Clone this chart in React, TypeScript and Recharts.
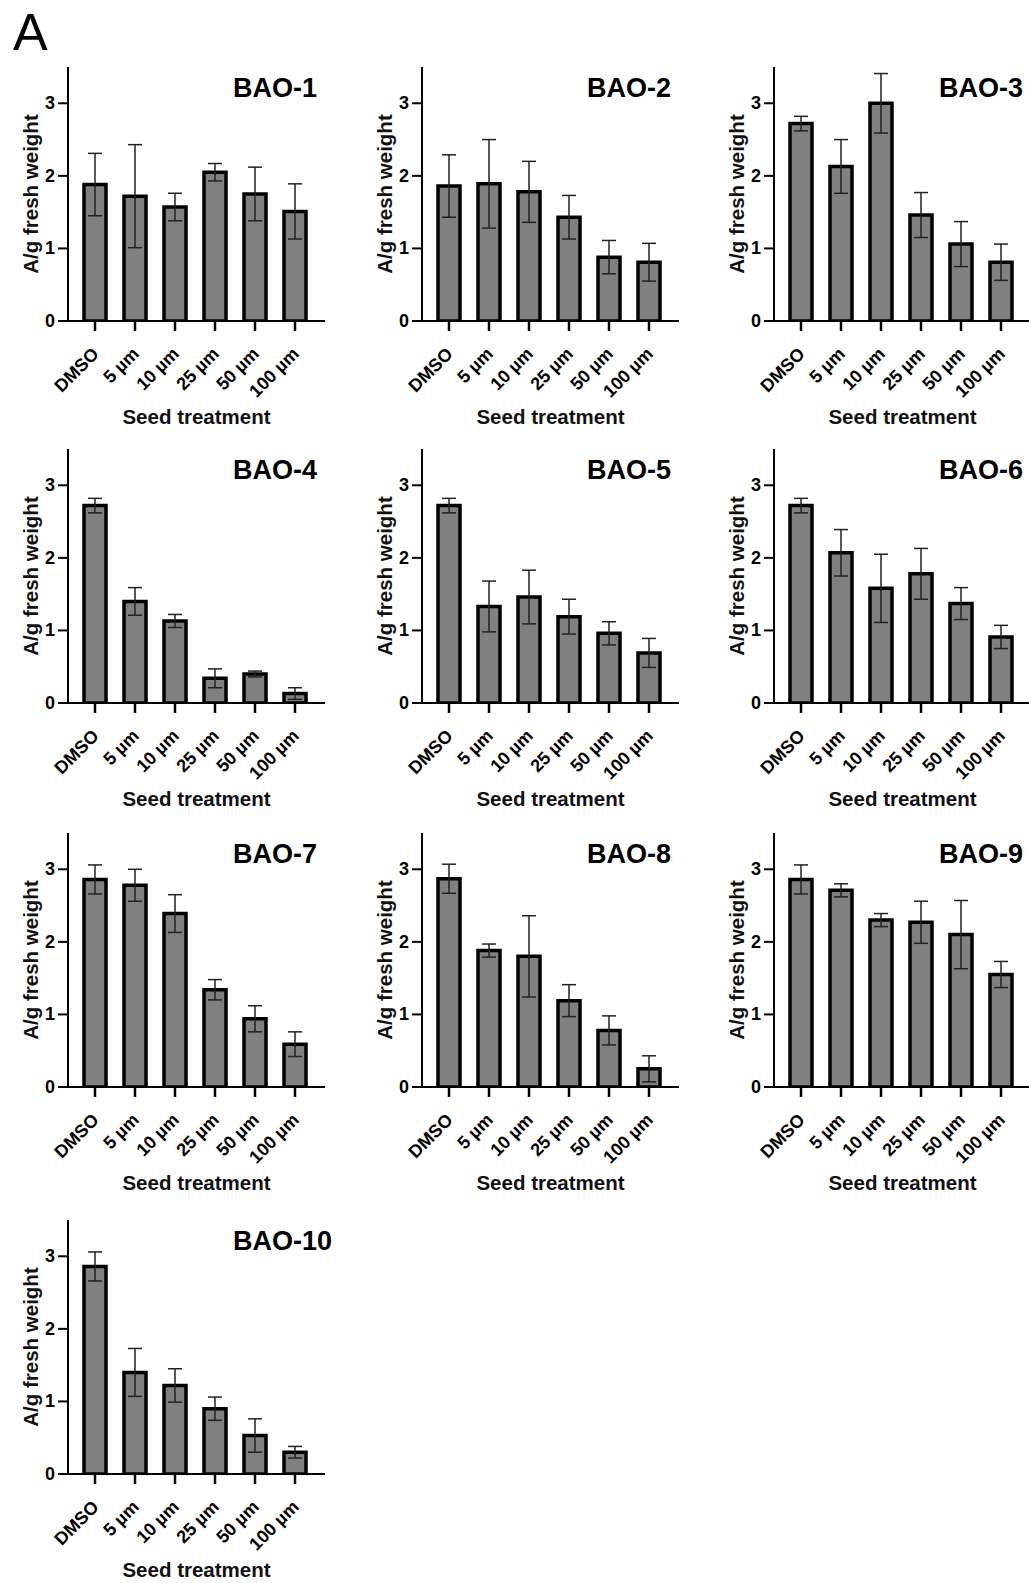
import React from 'react'
import { BarChart, Bar, XAxis, YAxis, ErrorBar, Label } from 'recharts'

const FONT = '"Liberation Sans", Arial, Helvetica, sans-serif'

// categories and tick labels
const treatments = ['DMSO', '5 µm', '10 µm', '25 µm', '50 µm', '100 µm']
const yTicks = [0, 1, 2, 3]

// mean A/g fresh weight and error, one pair of arrays per compound
const bao1Mean = [1.88, 1.72, 1.57, 2.05, 1.75, 1.51]
const bao1Err = [0.43, 0.71, 0.19, 0.12, 0.37, 0.38]
const bao2Mean = [1.86, 1.89, 1.78, 1.43, 0.88, 0.81]
const bao2Err = [0.43, 0.61, 0.42, 0.3, 0.23, 0.26]
const bao3Mean = [2.72, 2.13, 3.0, 1.46, 1.06, 0.81]
const bao3Err = [0.1, 0.37, 0.41, 0.31, 0.31, 0.25]
const bao4Mean = [2.72, 1.4, 1.13, 0.34, 0.4, 0.13]
const bao4Err = [0.1, 0.19, 0.09, 0.13, 0.04, 0.08]
const bao5Mean = [2.72, 1.33, 1.46, 1.19, 0.96, 0.69]
const bao5Err = [0.1, 0.35, 0.37, 0.24, 0.16, 0.2]
const bao6Mean = [2.72, 2.07, 1.58, 1.78, 1.37, 0.91]
const bao6Err = [0.1, 0.32, 0.47, 0.35, 0.22, 0.16]
const bao7Mean = [2.86, 2.78, 2.39, 1.34, 0.94, 0.59]
const bao7Err = [0.2, 0.22, 0.26, 0.14, 0.18, 0.17]
const bao8Mean = [2.87, 1.88, 1.8, 1.19, 0.78, 0.25]
const bao8Err = [0.2, 0.09, 0.56, 0.22, 0.2, 0.18]
const bao9Mean = [2.86, 2.71, 2.3, 2.27, 2.1, 1.55]
const bao9Err = [0.2, 0.09, 0.09, 0.29, 0.47, 0.18]
const bao10Mean = [2.86, 1.4, 1.22, 0.9, 0.53, 0.3]
const bao10Err = [0.2, 0.33, 0.23, 0.16, 0.23, 0.08]

const panels = [
  { title: 'BAO-1', means: bao1Mean, errs: bao1Err },
  { title: 'BAO-2', means: bao2Mean, errs: bao2Err },
  { title: 'BAO-3', means: bao3Mean, errs: bao3Err },
  { title: 'BAO-4', means: bao4Mean, errs: bao4Err },
  { title: 'BAO-5', means: bao5Mean, errs: bao5Err },
  { title: 'BAO-6', means: bao6Mean, errs: bao6Err },
  { title: 'BAO-7', means: bao7Mean, errs: bao7Err },
  { title: 'BAO-8', means: bao8Mean, errs: bao8Err },
  { title: 'BAO-9', means: bao9Mean, errs: bao9Err },
  { title: 'BAO-10', means: bao10Mean, errs: bao10Err },
]

const colLeft = [0, 354, 706]
const rowTop = [0, 382, 766, 1153]

function TreatmentTick({ x, y, payload }: any) {
  return (
    <g transform={`translate(${x + 5},${y + 22})`}>
      <text
        x={0}
        y={0}
        textAnchor="end"
        transform="rotate(-45)"
        fontSize={18}
        fontWeight={700}
        fontFamily={FONT}
        fill="#000"
      >
        {payload.value}
      </text>
    </g>
  )
}

function ValueTick({ x, y, payload }: any) {
  return (
    <text
      x={x}
      y={y}
      textAnchor="end"
      dominantBaseline="central"
      fontSize={18}
      fontWeight={700}
      fontFamily={FONT}
      fill="#000"
    >
      {payload.value}
    </text>
  )
}

function Panel({ title, means, errs }: { title: string; means: number[]; errs: number[] }) {
  const data = treatments.map((name, i) => ({ name, mean: means[i], err: errs[i] }))

  return (
    <BarChart
      width={353}
      height={440}
      data={data}
      margin={{ top: 67, right: 28, bottom: 19, left: 8 }}
    >
      <XAxis
        dataKey="name"
        height={100}
        interval={0}
        padding={{ left: 7, right: 10 }}
        tickSize={10}
        axisLine={{ stroke: '#000', strokeWidth: 2 }}
        tickLine={{ stroke: '#000', strokeWidth: 2.5 }}
        tick={<TreatmentTick />}
      >
        <Label
          content={({ viewBox }: any) => (
            <text
              x={viewBox.x + viewBox.width / 2}
              y={viewBox.y + 103}
              textAnchor="middle"
              fontSize={20.5}
              fontWeight={700}
              fontFamily={FONT}
              fill="#111"
            >
              Seed treatment
            </text>
          )}
        />
      </XAxis>
      <YAxis
        domain={[0, 3.5]}
        ticks={yTicks}
        width={60}
        tickSize={10}
        tickMargin={3}
        allowDataOverflow
        axisLine={{ stroke: '#000', strokeWidth: 2 }}
        tickLine={{ stroke: '#000', strokeWidth: 2 }}
        tick={<ValueTick />}
      >
        <Label
          content={({ viewBox }: any) => {
            const cx = viewBox.x + 22
            const cy = viewBox.y + viewBox.height / 2
            return (
              <text
                x={cx}
                y={cy}
                textAnchor="middle"
                dominantBaseline="central"
                transform={`rotate(-90 ${cx} ${cy})`}
                fontSize={20.5}
                fontWeight={700}
                fontFamily={FONT}
                fill="#111"
              >
                A/g fresh weight
              </text>
            )
          }}
        />
      </YAxis>
      <Bar
        dataKey="mean"
        fill="#808080"
        stroke="#000"
        strokeWidth={3.5}
        barSize={22}
        isAnimationActive={false}
      >
        <ErrorBar
          dataKey="err"
          direction="y"
          width={7}
          stroke="#222"
          strokeWidth={1.5}
          isAnimationActive={false}
        />
      </Bar>
      <text x={233} y={97} fontSize={27} fontWeight={700} fontFamily={FONT} fill="#000">
        {title}
      </text>
    </BarChart>
  )
}

export default function App() {
  return (
    <div
      style={{
        position: 'relative',
        width: 1029,
        height: 1583,
        overflow: 'hidden',
        background: '#fff',
        fontFamily: FONT,
      }}
    >
      <style>{`body { margin: 0; }`}</style>
      <div
        style={{
          position: 'absolute',
          left: 13,
          top: 6,
          fontSize: 52,
          lineHeight: 1,
          color: '#000',
        }}
      >
        A
      </div>
      {panels.map((p, i) => (
        <div
          key={p.title}
          style={{ position: 'absolute', left: colLeft[i % 3], top: rowTop[Math.floor(i / 3)] }}
        >
          <Panel title={p.title} means={p.means} errs={p.errs} />
        </div>
      ))}
    </div>
  )
}
